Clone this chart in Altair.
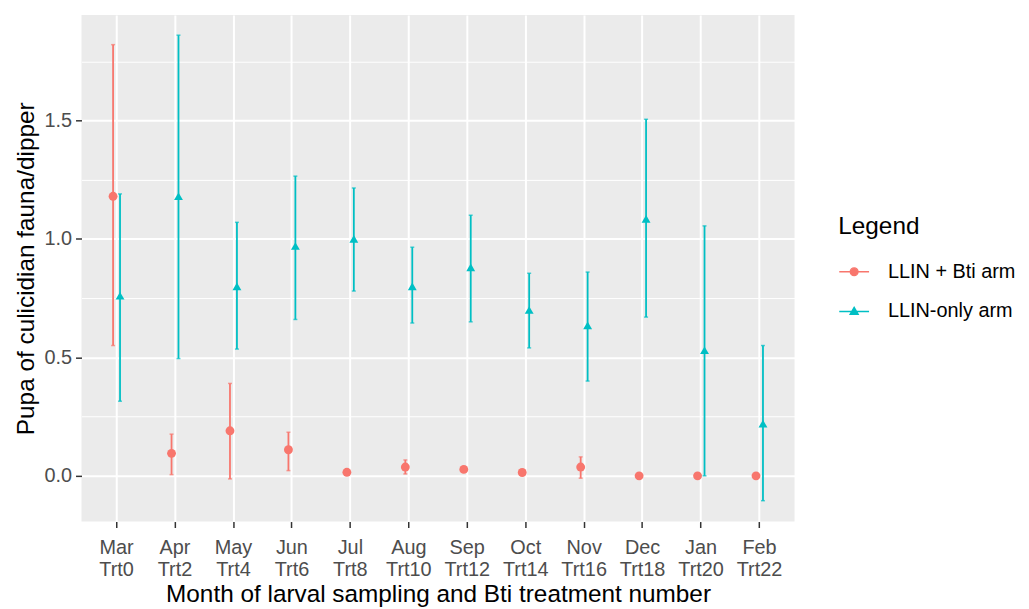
import altair as alt
import pandas as pd

months = ["Mar", "Apr", "May", "Jun", "Jul", "Aug", "Sep", "Oct", "Nov", "Dec", "Jan", "Feb"]
trts = ["Trt0", "Trt2", "Trt4", "Trt6", "Trt8", "Trt10", "Trt12", "Trt14", "Trt16", "Trt18", "Trt20", "Trt22"]
arms = ["LLIN + Bti arm", "LLIN-only arm"]

bti_mean = [1.18, 0.095, 0.19, 0.11, 0.015, 0.037, 0.027, 0.014, 0.037, 0.0, 0.0, 0.0]
bti_lo = [0.55, 0.005, -0.013, 0.022, 0.004, 0.008, 0.018, 0.008, -0.01, 0.0, 0.0, 0.0]
bti_hi = [1.82, 0.176, 0.39, 0.184, 0.024, 0.067, 0.036, 0.02, 0.08, 0.0, 0.0, 0.0]

only_mean = [0.76, 1.18, 0.80, 0.97, 1.0, 0.80, 0.88, 0.70, 0.635, 1.085, 0.53, 0.22]
only_lo = [0.315, 0.495, 0.535, 0.66, 0.78, 0.645, 0.65, 0.54, 0.40, 0.67, 0.0, -0.105]
only_hi = [1.19, 1.86, 1.07, 1.265, 1.215, 0.965, 1.10, 0.855, 0.86, 1.505, 1.055, 0.55]

colors = ["#F8766D", "#00BFC4"]

periods = [f"{m} {t}" for m, t in zip(months, trts)]
rows = []
for i, p in enumerate(periods):
    rows.append(dict(period=p, arm=arms[0], mean=bti_mean[i], lo=bti_lo[i], hi=bti_hi[i]))
    rows.append(dict(period=p, arm=arms[1], mean=only_mean[i], lo=only_lo[i], hi=only_hi[i]))
df = pd.DataFrame(rows)

W, H = 718, 510
step = W / 12.2
dodge = 7
FONT = "Liberation Sans"
PANEL = "#EBEBEB"

x_enc = alt.X(
    "period:N",
    sort=periods,
    scale=alt.Scale(domain=periods, paddingInner=0, paddingOuter=0.1),
    title="Month of larval sampling and Bti treatment number",
    axis=alt.Axis(
        bandPosition=0.5,
        grid=True,
        gridColor="white",
        gridWidth=2,
        domain=False,
        tickColor="#333333",
        tickSize=6,
        tickWidth=1.5,
        labelColor="#4D4D4D",
        labelFontSize=20,
        labelFont=FONT,
        labelExpr="split(datum.label, ' ')",
        labelLineHeight=22,
        labelPadding=10,
        labelAngle=0,
        titleFontSize=24.5,
        titleFont=FONT,
        titleFontWeight="normal",
        titleColor="black",
        titlePadding=4,
    ),
)
x_off = alt.XOffset(
    "arm:N",
    scale=alt.Scale(type="point", domain=arms, range=[step / 2 - dodge, step / 2 + dodge]),
)

y_scale = alt.Scale(domain=[-0.193, 1.945], nice=False, zero=False)
y_axis = alt.Axis(
    values=[0, 0.25, 0.5, 0.75, 1.0, 1.25, 1.5, 1.75],
    labelExpr="datum.value % 0.5 === 0 ? format(datum.value, '.1f') : ''",
    grid=True,
    gridColor="white",
    gridWidth={"condition": {"test": "datum.value % 0.5 !== 0", "value": 1}, "value": 2},
    tickOpacity={"condition": {"test": "datum.value % 0.5 !== 0", "value": 0}, "value": 1},
    domain=False,
    tickColor="#333333",
    tickSize=6,
    tickWidth=1.5,
    labelColor="#4D4D4D",
    labelFontSize=20,
    labelFont=FONT,
    labelPadding=4,
    titleFontSize=24.5,
    titleFont=FONT,
    titleFontWeight="normal",
    titleColor="black",
    titlePadding=6,
)

color_scale = alt.Scale(domain=arms, range=colors)
view_bg = alt.ViewBackground(fill=PANEL, strokeWidth=0)

base = alt.Chart(df).encode(x=x_enc, xOffset=x_off)

bars = base.mark_rule(strokeWidth=1.8).encode(
    y=alt.Y("lo:Q", scale=y_scale, axis=y_axis, title="Pupa of culicidian fauna/dipper"),
    y2="hi:Q",
    color=alt.Color("arm:N", scale=color_scale, legend=None),
)
cap_lo = base.mark_tick(size=4, thickness=1.5).encode(
    y=alt.Y("lo:Q", scale=y_scale),
    color=alt.Color("arm:N", scale=color_scale, legend=None),
)
cap_hi = base.mark_tick(size=4, thickness=1.5).encode(
    y=alt.Y("hi:Q", scale=y_scale),
    color=alt.Color("arm:N", scale=color_scale, legend=None),
)
points = base.mark_point(filled=True, size=80, opacity=1).encode(
    y=alt.Y("mean:Q", scale=y_scale),
    color=alt.Color("arm:N", scale=color_scale, legend=None),
    shape=alt.Shape("arm:N", scale=alt.Scale(domain=arms, range=["circle", "triangle-up"]), legend=None),
)

circle_key = "M-1,0H1M0.26,0A0.26,0.26,0,1,1,-0.26,0A0.26,0.26,0,1,1,0.26,0Z"
tri_key = "M-1,0H1M0,-0.28L0.27,0.19L-0.27,0.19Z"

leg = alt.Legend(
    title="Legend",
    orient="none",
    legendX=762,
    legendY=201,
    titleFont=FONT,
    titleFontSize=24.5,
    titleFontWeight="normal",
    titleColor="black",
    titlePadding=17,
    labelFont=FONT,
    labelFontSize=20,
    labelColor="black",
    labelOffset=18,
    symbolSize=900,
    symbolStrokeWidth=1.4,
    rowPadding=14,
)

legend_layer = alt.Chart(df).transform_filter("false").mark_point(filled=True, strokeWidth=1.4, opacity=1).encode(
    color=alt.Color("arm:N", scale=alt.Scale(domain=arms, range=colors), legend=leg),
    stroke=alt.Stroke("arm:N", scale=alt.Scale(domain=arms, range=colors), legend=leg),
    shape=alt.Shape("arm:N", scale=alt.Scale(domain=arms, range=[circle_key, tri_key]), legend=leg),
)

chart = (
    alt.layer(bars, cap_lo, cap_hi, points, legend_layer)
    .resolve_scale(color="independent", shape="independent", stroke="independent")
    .properties(width=W, height=H, background="white", view=view_bg,
                padding={"left": 5, "top": 5, "right": 5, "bottom": 5})
    .configure_view(fill=PANEL, strokeWidth=0)
)

chart.save("out.html", embed_options={"renderer": "svg", "actions": False})
